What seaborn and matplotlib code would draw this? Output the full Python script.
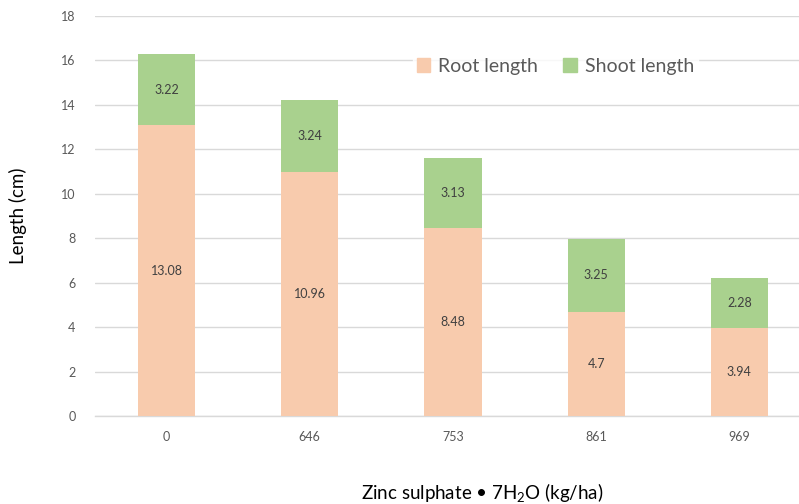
import matplotlib
matplotlib.use("Agg")
import matplotlib.pyplot as plt
import matplotlib.patches as mpatches
import seaborn as sns
import pandas as pd

# Zinc sulphate dose (kg/ha) and measured seedling lengths (cm)
doses = ["0", "646", "753", "861", "969"]
root_length = [13.08, 10.96, 8.48, 4.7, 3.94]
shoot_length = [3.22, 3.24, 3.13, 3.25, 2.28]
root_labels = ["13.08", "10.96", "8.48", "4.7", "3.94"]
shoot_labels = ["3.22", "3.24", "3.13", "3.25", "2.28"]
y_ticks = [0, 2, 4, 6, 8, 10, 12, 14, 16, 18]

sns.set_theme(style="white")
plt.rcParams["font.family"] = ["Lato", "DejaVu Sans"]
plt.rcParams["mathtext.fontset"] = "custom"
plt.rcParams["mathtext.rm"] = "Lato"
plt.rcParams["mathtext.it"] = "Lato:italic"

ROOT_C = "#F8CBAD"
SHOOT_C = "#A9D18E"
TEXT_C = "#404040"
TICK_C = "#595959"
GRID_C = "#D9D9D9"

df = pd.DataFrame({
    "dose": doses,
    "root": root_length,
    "shoot": shoot_length,
})
df["total"] = df["root"] + df["shoot"]

fig = plt.figure(figsize=(7.99, 5.04), dpi=100)
ax = fig.add_axes([95 / 799, 88 / 504, 716 / 799, 400 / 504])

# stacked bars: full height in green, root portion drawn over it
sns.barplot(data=df, x="dose", y="total", color=SHOOT_C, width=0.4,
            saturation=1, ax=ax, zorder=2, linewidth=0, edgecolor="none")
sns.barplot(data=df, x="dose", y="root", color=ROOT_C, width=0.4,
            saturation=1, ax=ax, zorder=3, linewidth=0, edgecolor="none")

for i, (r, s) in enumerate(zip(root_length, shoot_length)):
    ax.text(i, r / 2, root_labels[i], ha="center", va="center",
            fontsize=9, color=TEXT_C, zorder=4)
    ax.text(i, r + s / 2, shoot_labels[i], ha="center", va="center",
            fontsize=9, color=TEXT_C, zorder=4)

ax.set_ylim(0, 18)
ax.set_xlim(-0.5, len(doses) - 0.5)
ax.set_yticks(y_ticks)
ax.set_yticklabels([str(t) for t in y_ticks])
ax.yaxis.grid(True, color=GRID_C, linewidth=1)
ax.set_axisbelow(True)
for side in ["top", "right", "left"]:
    ax.spines[side].set_visible(False)
ax.spines["bottom"].set_color(GRID_C)
ax.spines["bottom"].set_linewidth(1)
ax.tick_params(axis="both", length=0, labelsize=9, colors=TICK_C)
ax.tick_params(axis="y", pad=14)
ax.tick_params(axis="x", pad=11)

ax.set_ylabel("")
ax.set_xlabel("")
fig.text(18 / 799, 1 - 216 / 504, "Length (cm)", rotation=90,
         ha="center", va="center", fontsize=13.5, color="black")
fig.text(482 / 799, 1 - 492 / 504, "Zinc sulphate \u2022 7H$_2$O (kg/ha)",
         ha="center", va="center", fontsize=13.5, color="black")

handles = [mpatches.Patch(color=ROOT_C, label="Root length"),
           mpatches.Patch(color=SHOOT_C, label="Shoot length")]
leg = ax.legend(handles=handles, loc="center", bbox_to_anchor=(0.643, 0.875),
                ncol=2, frameon=True, fontsize=14, handlelength=0.7,
                handleheight=0.7, handletextpad=0.4, columnspacing=1.3,
                borderpad=0.2)
leg.get_frame().set_facecolor("white")
leg.get_frame().set_edgecolor("white")
for t in leg.get_texts():
    t.set_color(TICK_C)

fig.savefig("out.png", dpi=100)
